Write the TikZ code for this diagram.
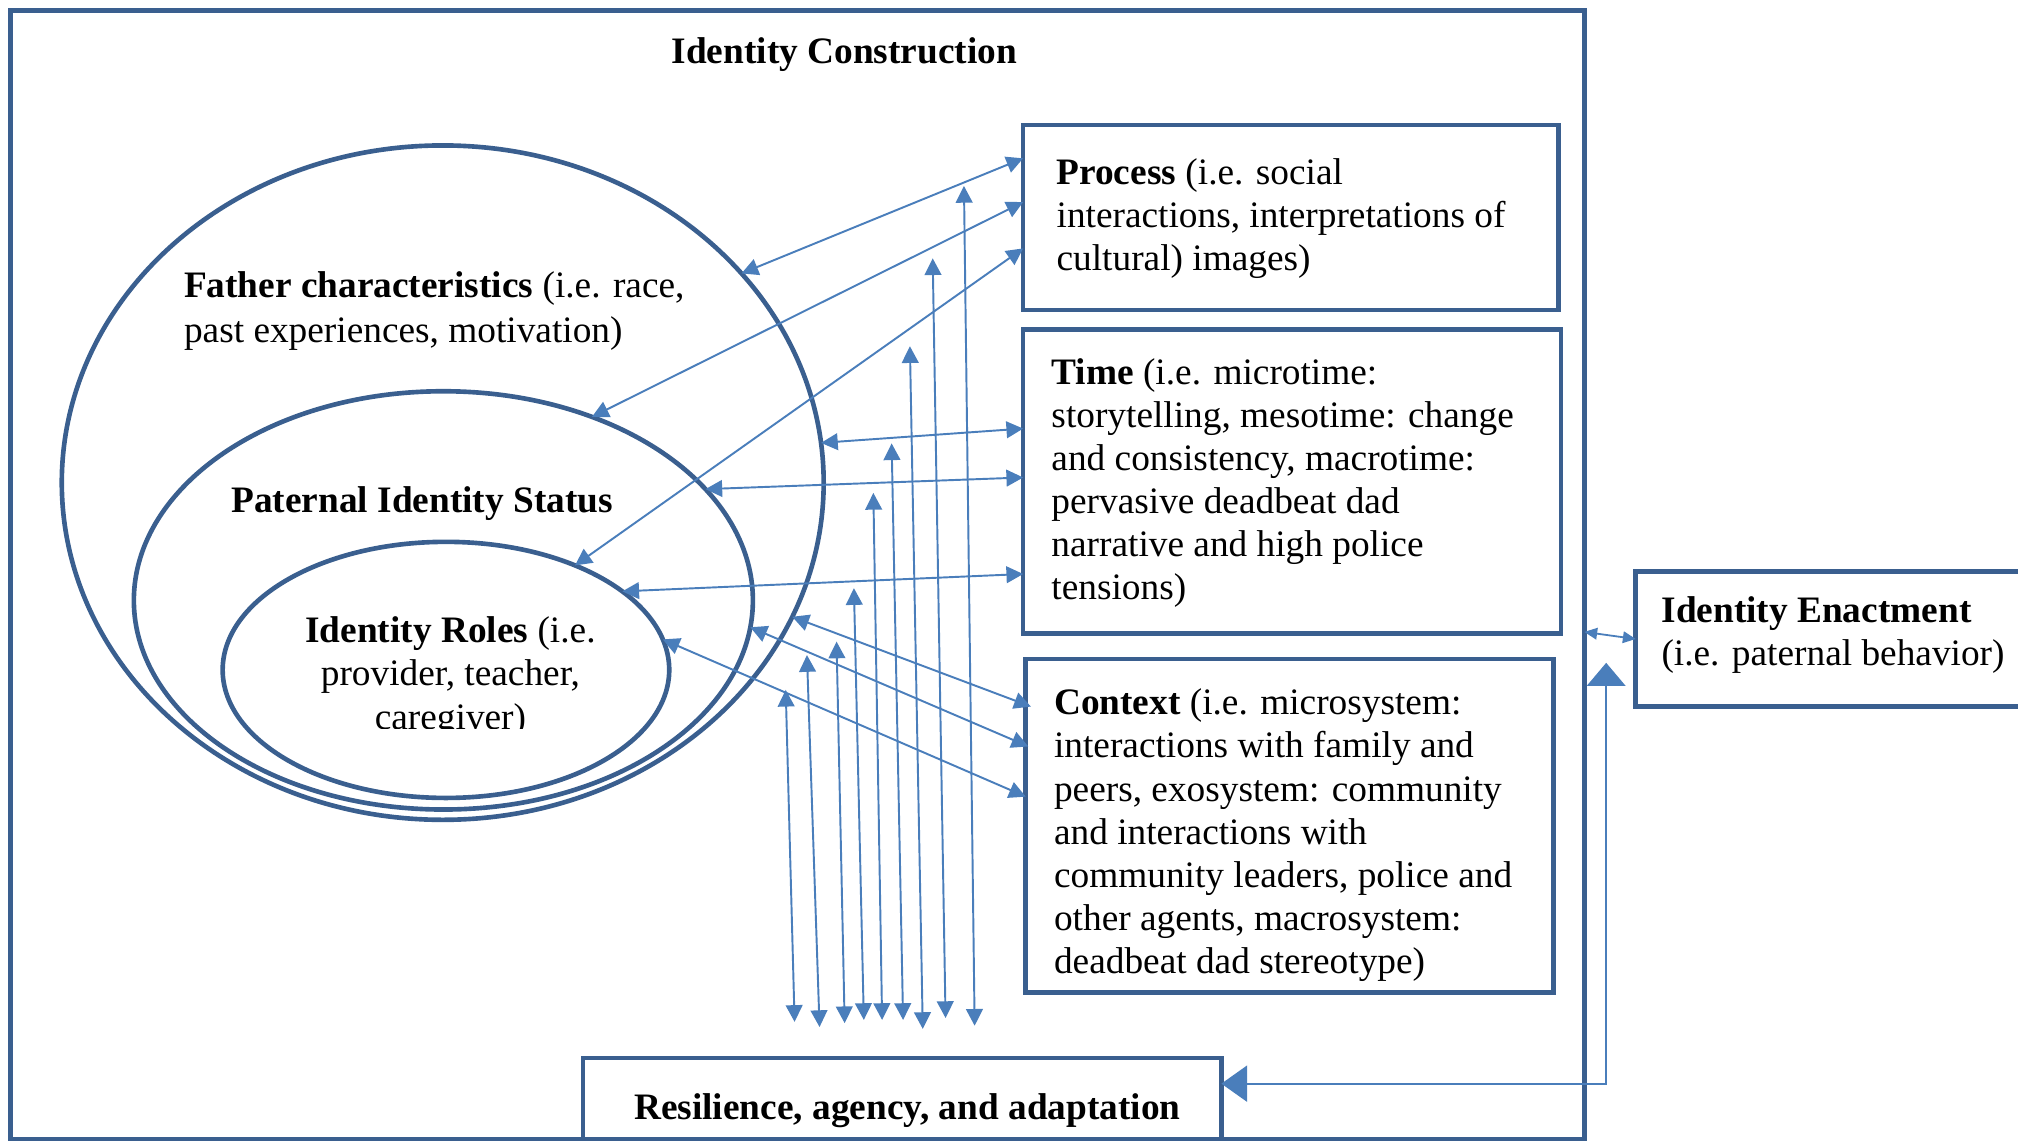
\documentclass[tikz,border=0pt]{standalone}
\usepackage{fontspec}
\setmainfont{Liberation Serif}
\usetikzlibrary{arrows.meta,shapes.geometric}
\definecolor{frameblue}{HTML}{3A5F8F}
\definecolor{arrowblue}{HTML}{4A7EBB}
\begin{document}
\begin{tikzpicture}[x=1pt,y=-1pt,
  every node/.style={font=\fontsize{29}{33.5}\selectfont},
  boxline/.style={draw=frameblue,line width=3.6pt},
  panel/.style={boxline,rectangle,inner sep=0pt,outer sep=0pt},
  ring/.style={boxline,ellipse,inner sep=0pt,outer sep=0pt},
  label/.style={inner sep=0pt,outer sep=0pt,align=left,anchor=north west},
  link/.style={draw=arrowblue,line width=1.5pt,
    arrows={Triangle[length=13pt,width=13pt]-Triangle[length=13pt,width=13pt]}},
  smalllink/.style={draw=arrowblue,line width=1.4pt,
    arrows={Triangle[length=10pt,width=9pt]-Triangle[length=10pt,width=9pt]}},
  feedback/.style={draw=arrowblue,line width=1.6pt,
    arrows={Triangle[length=18pt,width=30pt]-Triangle[length=20pt,width=28pt]}}
]
\useasboundingbox (0,0) rectangle (1568,886.6);

% outer frame: identity construction
\node[panel,minimum width=1223pt,minimum height=877pt] (frame) at (619.5,446.5) {};
\node[anchor=base] (title) at (656,49.5) {\textbf{Identity Construction}};

% nested ellipses
\node[ring,minimum width=592pt,minimum height=524pt] (fc) at (344,375) {};
\node[ring,minimum width=481pt,minimum height=325pt] (pis) at (344.5,466.5) {};
\node[ring,minimum width=347pt,minimum height=199pt] (ir) at (346.5,520.5) {};

\node[label] (fctext) at (143,208)
  {\strut\textbf{Father characteristics} (i.e. race,\\[1pt]past experiences, motivation)};
\node[anchor=base] (pistext) at (328,398.5) {\textbf{Paternal Identity Status}};
\begin{scope}
  \clip (150,420) rectangle (545,566);
  \node[label,anchor=north,align=center] (irtext) at (350,476)
    {\strut\textbf{Identity Roles} (i.e.\\provider, teacher,\\caregiver)};
\end{scope}

% right-hand boxes
\node[panel,minimum width=416pt,minimum height=144pt] (proc) at (1003,169) {};
\node[label] (proctext) at (821,120)
  {\strut\textbf{Process} (i.e. social\\interactions, interpretations of\\cultural) images)};

\node[panel,minimum width=418pt,minimum height=236pt] (time) at (1004,374) {};
\node[label] (timetext) at (817,275)
  {\strut\textbf{Time} (i.e. microtime:\\storytelling, mesotime: change\\and consistency, macrotime:\\pervasive deadbeat dad\\narrative and high police\\tensions)};

\node[panel,minimum width=410pt,minimum height=259pt] (ctx) at (1002,641.5) {};
\node[label] (ctxtext) at (819,532)
  {\strut\textbf{Context} (i.e. microsystem:\\interactions with family and\\peers, exosystem: community\\and interactions with\\community leaders, police and\\other agents, macrosystem:\\deadbeat dad stereotype)};

% identity enactment (box runs off the right edge)
\draw[boxline] (1572,444) -- (1271,444) -- (1271,549) -- (1572,549);
\coordinate (enactw) at (1271,496.5);
\node[label] (enacttext) at (1291,460)
  {\strut\textbf{Identity Enactment}\\(i.e. paternal behavior)};

% resilience box on the bottom edge
\node[panel,minimum width=496pt,minimum height=63pt] (resil) at (701,853.5) {};
\node[anchor=base] (resiltext) at (705,869.5) {\textbf{Resilience, agency, and adaptation}};

% links between the ellipses and the right-hand boxes
\draw[link] (fc.35.6) -- ([yshift=46pt]proc.west);
\draw[link] (pis.51.3) -- ([yshift=12pt]proc.west);
\draw[link] (ir.39.5) -- ([yshift=-24pt]proc.west);
\draw[link] (fc.6.9) -- ([yshift=41pt]time.west);
\draw[link] (pis.23.1) -- ([yshift=3pt]time.west);
\draw[link] (ir.24.4) -- ([yshift=-72pt]time.west);
\draw[link] (fc.-21.4) -- ([xshift=4pt,yshift=92.5pt]ctx.west);
\draw[link] (pis.-5.3) -- ([xshift=2pt,yshift=61.5pt]ctx.west);
\draw[link] (ir.8.5) -- ([yshift=22.5pt]ctx.west);

% bundle of vertical links towards resilience
\foreach \i/\xa/\ya/\xb/\yb in {1/610.5/536/617.4/794, 2/627/509/636.8/798,
    3/650/498.5/656.3/795, 4/663.5/457/671.2/792.5, 5/678.6/383/685.4/792.5,
    6/692.8/344.5/701.7/792.5, 7/707/269/717/799.5, 8/724.7/200.7/734.7/791,
    9/749/144.5/757.3/797}{
  \coordinate (up\i) at (\xa,\ya);
  \coordinate (dn\i) at (\xb,\yb);
  \draw[link] (up\i) -- (dn\i);
}

% construction <-> enactment, and the feedback loop
\draw[smalllink] ([yshift=-44.5pt]frame.east) -- (enactw);
\coordinate (fbtop) at (1248,515);
\draw[feedback] (fbtop) |- ([yshift=11.5pt]resil.east);
\end{tikzpicture}
\end{document}
